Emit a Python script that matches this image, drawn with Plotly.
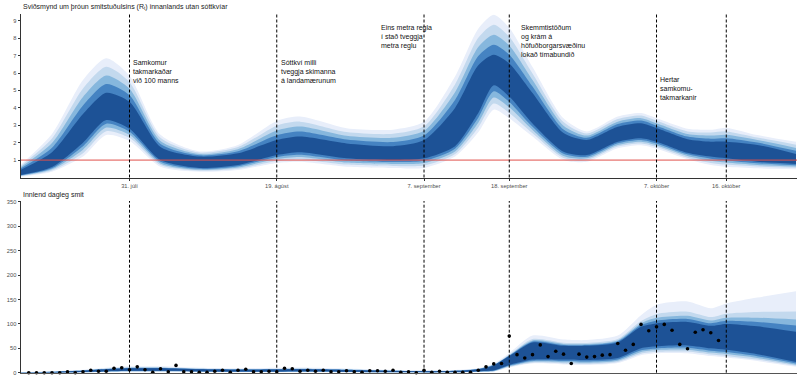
import plotly.graph_objects as go
import pandas as pd

# ---------------- data ----------------
band_dates = ["2020-07-17", "2020-07-21", "2020-07-25", "2020-07-28", "2020-07-31", "2020-08-04",
              "2020-08-09", "2020-08-14", "2020-08-19", "2020-08-22", "2020-08-28", "2020-09-03",
              "2020-09-07", "2020-09-11", "2020-09-14", "2020-09-16", "2020-09-18", "2020-09-21",
              "2020-09-25", "2020-09-28", "2020-10-02", "2020-10-05", "2020-10-07", "2020-10-11",
              "2020-10-14", "2020-10-16", "2020-10-20", "2020-10-25"]

# R_t fan (lower bounds, outer -> inner)
rt_lo_4 = [0.05, 0.33, 1.2, 2.44, 2.1, 0.62, 0.33, 0.43, 0.83, 0.9, 0.62, 0.55, 0.55, 1.2, 2.6, 3.9, 3.4, 2.35, 1.0, 0.9, 1.68, 1.85, 1.65, 1.05, 0.72, 0.62, 0.53, 0.48]
rt_lo_3 = [0.08, 0.40, 1.4, 2.66, 2.28, 0.72, 0.39, 0.50, 0.95, 1.04, 0.74, 0.66, 0.69, 1.35, 2.88, 4.25, 3.71, 2.54, 1.12, 1.0, 1.78, 1.95, 1.75, 1.14, 0.84, 0.74, 0.63, 0.56]
rt_lo_2 = [0.10, 0.47, 1.6, 2.87, 2.45, 0.81, 0.44, 0.58, 1.06, 1.18, 0.86, 0.78, 0.83, 1.5, 3.15, 4.6, 4.03, 2.73, 1.24, 1.10, 1.87, 2.06, 1.86, 1.24, 0.96, 0.86, 0.72, 0.63]
rt_lo_1 = [0.13, 0.53, 1.8, 3.09, 2.63, 0.91, 0.50, 0.65, 1.18, 1.31, 0.98, 0.89, 0.96, 1.65, 3.43, 4.95, 4.34, 2.91, 1.36, 1.19, 1.97, 2.16, 1.96, 1.33, 1.08, 0.98, 0.82, 0.71]
rt_lo_0 = [0.15, 0.6, 2.0, 3.3, 2.8, 1.0, 0.55, 0.72, 1.29, 1.45, 1.1, 1.0, 1.1, 1.8, 3.7, 5.3, 4.65, 3.1, 1.48, 1.29, 2.06, 2.26, 2.06, 1.42, 1.2, 1.1, 0.91, 0.78]
# R_t fan (upper bounds, inner -> outer)
rt_hi_0 = [0.45, 1.45, 3.65, 4.87, 4.35, 1.75, 1.2, 1.39, 2.15, 2.35, 1.96, 1.8, 2.15, 4.0, 6.45, 7.05, 6.55, 4.85, 2.55, 2.16, 2.92, 3.12, 2.84, 2.2, 2.06, 2.06, 1.87, 1.35]
rt_hi_1 = [0.53, 1.71, 4.14, 5.37, 4.73, 1.93, 1.28, 1.51, 2.43, 2.64, 2.18, 2.04, 2.41, 4.45, 6.98, 7.63, 7.06, 5.23, 2.76, 2.28, 3.07, 3.27, 2.98, 2.35, 2.23, 2.26, 2.01, 1.53]
rt_hi_2 = [0.60, 1.98, 4.63, 5.86, 5.10, 2.10, 1.35, 1.63, 2.70, 2.93, 2.40, 2.28, 2.68, 4.9, 7.5, 8.2, 7.58, 5.6, 2.98, 2.41, 3.21, 3.41, 3.12, 2.5, 2.41, 2.46, 2.16, 1.70]
rt_hi_3 = [0.68, 2.24, 5.11, 6.36, 5.48, 2.28, 1.43, 1.75, 2.98, 3.21, 2.61, 2.51, 2.94, 5.35, 8.03, 8.78, 8.09, 5.98, 3.19, 2.53, 3.36, 3.56, 3.26, 2.65, 2.58, 2.65, 2.30, 1.88]
rt_hi_4 = [0.75, 2.5, 5.6, 6.85, 5.85, 2.45, 1.5, 1.87, 3.25, 3.5, 2.83, 2.75, 3.2, 5.8, 8.55, 9.35, 8.6, 6.35, 3.4, 2.65, 3.5, 3.7, 3.4, 2.8, 2.75, 2.85, 2.44, 2.05]

# daily cases fan
cs_lo_4 = [0, 0, 0.5, 1.5, 2, 2, 1.5, 1, 1, 1, 0.8, 0.4, 0.3, 0.4, 1.5, 2, 11, 19, 17, 16, 20, 36, 40, 40, 34, 31, 24, 12]
cs_lo_3 = [0, 0.06, 0.7, 1.8, 2.4, 2.4, 1.8, 1.3, 1.3, 1.4, 1.04, 0.56, 0.44, 0.56, 1.8, 2.6, 12, 20.6, 19, 18, 22, 38.8, 42.8, 43.2, 37.2, 34.2, 26.8, 14]
cs_lo_2 = [0, 0.14, 0.95, 2.18, 2.9, 2.9, 2.18, 1.68, 1.68, 1.9, 1.34, 0.76, 0.62, 0.76, 2.18, 3.35, 13.25, 22.6, 21.5, 20.5, 24.5, 42.3, 46.3, 47.2, 41.2, 38.2, 30.3, 16.5]
cs_lo_1 = [0, 0.21, 1.2, 2.55, 3.4, 3.4, 2.55, 2.05, 2.05, 2.4, 1.64, 0.96, 0.79, 0.96, 2.55, 4.1, 14.5, 24.6, 24, 23, 27, 45.8, 49.8, 51.2, 45.2, 42.2, 33.8, 19]
cs_lo_0 = [0, 0.3, 1.5, 3, 4, 4, 3, 2.5, 2.5, 3, 2, 1.2, 1, 1.2, 3, 5, 16, 27, 27, 26, 30, 50, 54, 56, 50, 47, 38, 22]
cs_hi_0 = [0.5, 1.5, 4, 7, 9, 9, 7, 6, 6.5, 7, 5.5, 3.5, 3, 3.5, 7, 15, 34, 62, 55, 55, 62, 94, 101, 104, 96, 100, 95, 84]
cs_hi_1 = [0.65, 1.73, 4.3, 7.45, 9.6, 9.6, 7.45, 6.45, 7.0, 7.5, 5.95, 3.8, 3.3, 3.8, 7.3, 15.6, 34.9, 64.1, 57, 56.8, 64.1, 97.6, 106.7, 110.3, 101.4, 106.3, 103.9, 96.5]
cs_hi_2 = [0.8, 1.95, 4.6, 7.9, 10.2, 10.2, 7.9, 6.9, 7.55, 8.05, 6.4, 4.1, 3.6, 4.1, 7.6, 16.2, 35.8, 66.2, 58.9, 58.6, 66.2, 101.2, 112.4, 116.6, 106.8, 112.6, 112.7, 108.9]
cs_hi_3 = [1.0, 2.25, 5.0, 8.5, 11, 11, 8.5, 7.5, 8.25, 8.75, 7.0, 4.5, 4.0, 4.5, 8.0, 17, 37, 69, 61.5, 61, 69, 106, 120, 125, 114, 121, 124.5, 125.5]
cs_hi_4 = [1.5, 3, 6, 10, 13, 13, 10, 9, 10, 10.5, 8.5, 5.5, 5, 5.5, 9, 19, 40, 76, 68, 67, 76, 118, 139, 146, 132, 142, 154, 167]

# observed domestic daily cases, one per day from 18 July
case_start = "2020-07-18"
cases = [0, 0, 0, 0, 0, 2, 0, 2, 5, 3, 3, 9, 10, 6, 12, 6, 1, 8, 2, 15,
         2, 2, 1, 1, 3, 5, 1, 5, 7, 2, 2, 3, 2, 9, 8, 3, 5, 3, 5, 2,
         2, 4, 2, 1, 4, 4, 3, 5, 1, 2, 0, 5, 1, 3, 1, 1, 1, 1, 5, 12,
         18, 19, 75, 37, 30, 37, 57, 33, 44, 38, 19, 38, 32, 33, 36, 37, 60, 46, 58, 99,
         86, 94, 99, 87, 58, 49, 83, 88, 82, 66]
case_dates = pd.date_range(case_start, periods=len(cases), freq="D")

# events
event_dates = ["2020-07-31", "2020-08-19", "2020-09-07", "2020-09-18", "2020-10-07", "2020-10-16"]
tick_labels = ["31. júlí", "19. ágúst", "7. september", "18. september", "7. október", "16. október"]
rt_ticks = [1, 2, 3, 4, 5, 6, 7, 8, 9]
cs_ticks = [0, 50, 100, 150, 200, 250, 300, 350]

notes = [
    ("2020-07-31 06:00", 6.95, "Samkomur<br>takmarkaðar<br>við 100 manns"),
    ("2020-08-19 06:00", 6.95, "Sóttkví milli<br>tveggja skimanna<br>á landamærunum"),
    ("2020-09-01 06:00", 8.95, "Eins metra regla<br>í stað tveggja<br>metra reglu"),
    ("2020-09-19 06:00", 8.95, "Skemmtistöðum<br>og krám á<br>höfuðborgarsvæðinu<br>lokað tímabundið"),
    ("2020-10-07 06:00", 5.95, "Hertar<br>samkomu-<br>takmarkanir"),
]

# ---------------- figure ----------------
FONT = "Liberation Sans, Arial, sans-serif"
band_colors = ["#e8eefa", "#c3d9ee", "#86b7dd", "#4583c2", "#1d5296"]

fig = go.Figure()

def add_fan(los, his, xa, ya):
    for lo, hi, col in zip(los, his, band_colors):
        fig.add_trace(go.Scatter(x=band_dates, y=lo, mode="lines", line=dict(width=0, shape="spline", smoothing=0.7),
                                 xaxis=xa, yaxis=ya, hoverinfo="skip", showlegend=False))
        fig.add_trace(go.Scatter(x=band_dates, y=hi, mode="lines", line=dict(width=0, shape="spline", smoothing=0.7),
                                 fill="tonexty", fillcolor=col, xaxis=xa, yaxis=ya,
                                 hoverinfo="skip", showlegend=False))

add_fan([rt_lo_4, rt_lo_3, rt_lo_2, rt_lo_1, rt_lo_0],
        [rt_hi_4, rt_hi_3, rt_hi_2, rt_hi_1, rt_hi_0], "x", "y")
add_fan([cs_lo_4, cs_lo_3, cs_lo_2, cs_lo_1, cs_lo_0],
        [cs_hi_4, cs_hi_3, cs_hi_2, cs_hi_1, cs_hi_0], "x2", "y2")

fig.add_trace(go.Scatter(x=case_dates, y=cases, mode="markers",
                         marker=dict(color="black", size=3.6), xaxis="x2", yaxis="y2",
                         hoverinfo="skip", showlegend=False, cliponaxis=False))

shapes = []
shapes.append(dict(type="line", xref="x domain", yref="y", x0=0, x1=1, y0=1, y1=1,
                   line=dict(color="#e0504a", width=1)))
for d in event_dates:
    for yr in ["y domain", "y2 domain"]:
        xr = "x" if yr == "y domain" else "x2"
        shapes.append(dict(type="line", xref=xr, yref=yr, x0=d, x1=d, y0=0, y1=1,
                           line=dict(color="black", width=1, dash="3px,2px")))

annotations = []
for x, y, t in notes:
    annotations.append(dict(x=x, y=y, xref="x", yref="y", text=t, showarrow=False,
                            xanchor="left", yanchor="top", align="left",
                            font=dict(size=7, color="#111111", family=FONT)))
annotations.append(dict(x=0, y=0.9813, xref="paper", yref="paper",
                        text="Sviðsmynd um þróun smitstuðulsins (R<sub>t</sub>) innanlands utan sóttkvíar",
                        showarrow=False, xanchor="left", yanchor="middle",
                        font=dict(size=7, color="#1a1a1a", family=FONT)))
annotations.append(dict(x=0, y=0.4786, xref="paper", yref="paper", text="Innlend dagleg smit",
                        showarrow=False, xanchor="left", yanchor="middle",
                        font=dict(size=7, color="#1a1a1a", family=FONT)))

xrange = ["2020-07-17", "2020-10-25 03:00"]
tickfont = dict(size=5.7, color="#4d4d4d", family=FONT)

fig.update_layout(
    width=800, height=378,
    margin=dict(l=21, r=3, t=0, b=4, autoexpand=False),
    paper_bgcolor="white", plot_bgcolor="white",
    showlegend=False, hovermode=False,
    shapes=shapes, annotations=annotations,
    xaxis=dict(domain=[0, 1], anchor="y", range=xrange, showgrid=False, zeroline=False,
               showline=True, linecolor="#333333", linewidth=1, automargin=False,
               tickmode="array", tickvals=event_dates, ticktext=tick_labels,
               ticks="outside", ticklen=2.5, tickcolor="#333333", tickfont=tickfont),
    yaxis=dict(domain=[0.5254, 0.9628], anchor="x", range=[0, 9.4], showgrid=False, zeroline=False,
               showline=True, linecolor="#333333", linewidth=1, automargin=False,
               tickmode="array", tickvals=rt_ticks, ticks="outside", ticklen=2.5,
               tickcolor="#333333", tickfont=tickfont),
    xaxis2=dict(domain=[0, 1], anchor="y2", range=xrange, matches="x", showgrid=False, zeroline=False,
                showline=True, linecolor="#555555", linewidth=1, showticklabels=False, ticks="",
                automargin=False),
    yaxis2=dict(domain=[0.0035, 0.4626], anchor="x2", range=[0, 352], showgrid=False, zeroline=False,
                showline=True, linecolor="#333333", linewidth=1, automargin=False,
                tickmode="array", tickvals=cs_ticks, ticks="outside", ticklen=2.5,
                tickcolor="#333333", tickfont=tickfont),
)

fig.write_html("out.html", config={"displayModeBar": False},
               post_script="document.body.style.margin='0px';document.body.style.overflow='hidden';")
